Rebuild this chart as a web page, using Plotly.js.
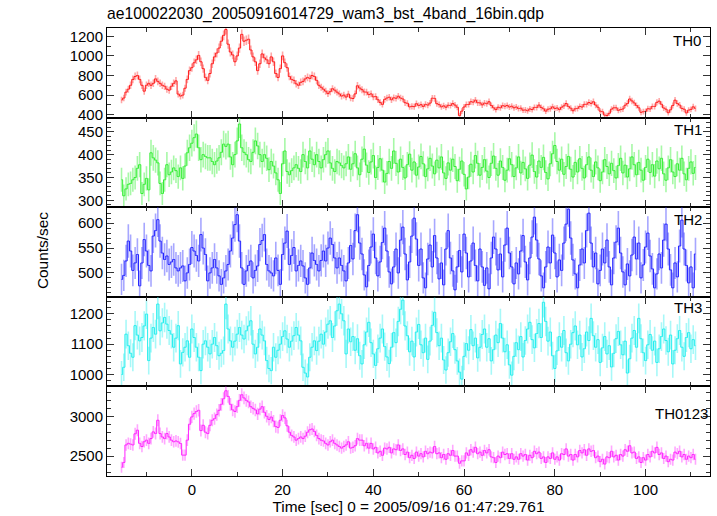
<!DOCTYPE html>
<html>
<head>
<meta charset="utf-8">
<script src="https://cdn.plot.ly/plotly-3.0.1.min.js"></script>
<style>html,body{margin:0;padding:0;background:#fff;}#plot{width:717px;height:516px;}</style>
</head>
<body>
<div id="plot"></div>
<script>
// Time bins: 0.5 s starting at -15.5 s
const tStart = -15.5;
const binWidth = 0.5;

const panelNames = ["TH0", "TH1", "TH2", "TH3", "TH0123"];

const TH0 = [
 550,570,630,660,700,760,790,800,760,700,640,700,720,700,720,765,740,720,700,690,
 660,650,690,720,745,610,590,600,670,760,850,880,930,960,1005,940,870,780,750,820,
 920,990,1030,1080,1150,1210,1270,1120,1040,1010,940,1000,1080,1220,1150,1160,1170,1060,990,940,
 850,920,1020,980,960,920,990,940,820,780,870,1000,930,880,790,760,750,715,700,730,
 740,765,780,770,800,790,750,700,680,660,640,615,635,665,650,630,612,590,600,580,
 610,570,565,612,695,672,655,632,630,605,612,582,585,552,525,505,556,570,578,552,
 572,568,588,570,560,522,516,480,485,482,512,494,502,484,505,498,518,568,566,512,
 502,480,490,476,496,494,514,498,476,392,436,478,502,504,532,528,548,522,520,500,
 518,512,532,494,470,452,476,470,492,486,494,478,486,470,478,462,466,446,448,440,
 458,452,474,474,498,474,460,436,456,460,480,464,468,452,476,490,514,484,466,440,
 460,464,484,478,505,506,524,515,532,498,476,436,430,395,392,414,456,470,470,444,
 452,458,496,514,560,540,520,494,470,424,430,434,460,458,484,484,526,538,506,468,
 456,420,450,494,548,514,498,464,456,418,446,454,480,464
];

const TH1 = [
 345,310,325,335,337,345,350,370,378,315,335,348,323,404,393,388,382,337,315,345,
 378,356,362,371,365,352,371,348,375,404,415,425,437,445,415,389,400,396,393,393,
 385,378,386,393,405,423,418,423,395,378,400,430,467,415,405,400,389,385,405,430,
 419,400,385,400,392,367,385,375,360,345,315,380,408,363,356,365,371,378,370,363,
 400,385,371,408,390,378,400,385,371,389,400,408,382,370,363,385,382,376,371,380,
 395,368,380,402,371,356,390,412,377,361,384,398,350,372,391,366,340,359,385,370,
 408,381,362,390,372,349,378,401,366,384,355,373,396,380,352,369,392,375,358,388,
 371,395,360,348,382,366,390,374,343,368,386,357,325,351,379,362,398,381,355,372,
 389,364,350,381,397,370,355,386,372,344,366,391,378,352,371,395,360,383,369,348,
 377,399,363,351,386,372,394,361,347,380,402,420,385,366,390,357,374,396,368,351,
 383,362,391,370,349,378,395,366,352,384,371,343,362,389,374,358,381,365,349,376,
 392,360,377,351,369,395,378,356,383,366,344,372,390,361,378,353,386,369,392,358,
 344,371,389,362,352,380,366,392,358,345,370,384,359,372
];

const TH2 = [
 487,495,524,564,544,505,520,537,474,520,567,544,515,504,574,585,607,564,540,527,
 534,517,522,527,510,504,510,514,484,500,517,551,544,535,524,577,550,537,484,500,
 510,527,510,494,477,490,504,517,544,570,597,617,564,510,477,504,515,524,490,505,
 514,557,565,577,517,504,500,494,530,505,477,537,560,584,517,535,551,504,515,524,
 514,490,477,510,540,525,517,504,525,544,524,550,570,557,530,510,530,515,504,484,
 520,555,528,585,617,560,538,496,472,515,552,578,530,494,522,561,590,544,502,478,
 512,548,500,566,592,538,486,522,574,610,568,515,548,490,470,528,556,512,575,530,
 488,520,476,548,585,530,504,466,512,545,502,578,540,492,524,560,515,484,548,512,
 475,510,468,530,572,548,506,538,492,556,590,540,512,478,520,498,544,575,522,486,
 530,572,612,566,528,494,470,512,552,520,576,540,492,526,505,560,598,628,570,526,
 498,470,516,548,520,585,620,560,512,540,478,505,548,520,566,512,476,530,562,590,
 540,502,476,518,494,536,572,528,560,490,516,552,580,534,508,470,498,538,510,566,
 598,548,506,470,520,492,554,606,548,515,480,512,470,538
];

const TH3 = [
 1000,1024,1133,1095,1070,1057,1161,1130,1111,1122,1160,1199,1046,1120,1155,1133,1232,1144,1170,1188,
 1166,1145,1133,1090,1120,1161,1035,1073,1090,1111,1057,1150,1122,1090,1057,1013,1100,1111,1090,1068,
 1100,1122,1095,1062,1070,1079,1232,1150,1111,1090,1110,1133,1155,1130,1117,1144,1160,1177,1100,1068,
 1090,1150,1130,1111,1046,1020,1013,1090,1057,1080,1100,1125,1144,1117,1090,1110,1128,1155,1130,1111,
 1024,1005,992,1057,1090,1111,1079,1110,1133,1100,1140,1166,1177,1122,1160,1210,1232,1200,1177,1068,
 1150,1108,1125,1080,1118,1062,1035,1098,1140,1172,1105,1068,1030,1085,1120,1150,1092,1058,1036,1090,
 1138,1105,1175,1215,1245,1160,1128,1075,1110,1058,1140,1165,1098,1072,1120,1050,1110,1162,1205,1138,
 1095,1120,1048,1015,1072,1108,1135,1082,1045,1008,985,1060,1102,1080,1148,1095,1120,1055,1090,1132,
 1150,1090,1118,1045,1082,1130,1105,1168,1120,1075,1098,1032,998,1060,1105,1082,1125,1058,1112,1150,
 1172,1115,1088,1135,1168,1122,1238,1175,1110,1140,1062,1020,1078,1125,1090,1145,1072,1045,1100,1138,
 1160,1098,1130,1058,1085,1140,1112,1185,1128,1090,1115,1040,1088,1125,1068,1095,1025,1070,1118,1142,
 1098,1065,1110,1005,1052,1120,1145,1090,1185,1118,1072,1046,1098,1132,1080,1110,1040,1085,1125,1150,
 1112,1075,1130,1035,1080,1118,1145,1090,1060,1122,1138,1085,1115,1095
];

const TH0123 = [
 2360,2420,2640,2660,2650,2640,2780,2825,2660,2620,2680,2700,2660,2720,2804,2783,2950,2783,2740,2720,
 2783,2740,2700,2680,2690,2679,2658,2512,2512,2700,2900,2992,3033,3060,3075,2820,2887,2800,2783,2887,
 2950,2970,3020,3075,3150,3220,3320,3250,3150,3080,3060,3120,3200,3270,3230,3200,3180,3120,3100,3080,
 3030,3090,3120,3050,3000,2960,2990,2940,2870,2860,2950,3010,2980,2880,2800,2760,2740,2700,2720,2740,
 2720,2750,2800,2830,2840,2810,2760,2720,2700,2690,2660,2640,2680,2700,2660,2640,2620,2600,2620,2640,
 2680,2600,2610,2630,2720,2700,2700,2630,2660,2600,2660,2590,2610,2540,2560,2510,2600,2590,2610,2540,
 2590,2580,2640,2570,2590,2520,2550,2480,2510,2470,2550,2500,2530,2490,2560,2530,2550,2540,2620,2530,
 2540,2480,2520,2460,2530,2510,2570,2500,2500,2410,2440,2440,2540,2510,2580,2550,2610,2530,2550,2510,
 2570,2540,2580,2490,2480,2420,2500,2480,2550,2520,2530,2470,2530,2460,2490,2460,2530,2500,2520,2450,
 2510,2480,2560,2530,2550,2470,2490,2420,2490,2470,2540,2460,2490,2450,2530,2520,2590,2500,2520,2450,
 2520,2490,2570,2540,2580,2510,2590,2560,2570,2480,2500,2430,2460,2400,2490,2480,2560,2490,2510,2450,
 2520,2500,2580,2560,2630,2540,2550,2470,2490,2420,2480,2450,2520,2490,2560,2540,2610,2520,2540,2470,
 2500,2430,2460,2450,2550,2530,2560,2490,2520,2460,2500,2480,2520,2460
];

const seriesList = [TH0, TH1, TH2, TH3, TH0123];
const lineColors = ["#ff1a1a", "#33ee33", "#2222ff", "#22eeee", "#ff22ff"];
const errColors  = ["rgba(255,60,60,0.45)", "rgba(60,240,60,0.45)", "rgba(60,60,255,0.45)", "rgba(60,240,240,0.45)", "rgba(255,60,255,0.45)"];
const yRanges = [[370, 1285], [285, 481], [452, 632], [961, 1256], [2250, 3375]];
const yMajor = [200, 50, 50, 100, 500];
const yMinor = [100, 10, 10, 20, 100];
const labelOffsetPx = [12, 11.5, 12, 11, 27];
const labelRightPx = [703, 704, 704, 704, 710];

const xRange = [-18.7, 114.2];

const W = 717, H = 516;
const mL = 107, mR = 6.5, mT = 28, mB = 40;
const plotW = W - mL - mR, plotH = H - mT - mB;
const fontFam = "Liberation Sans, Arial, Helvetica, sans-serif";

const traces = [];
const layout = {
  width: W, height: H,
  margin: {l: mL, r: mR, t: mT, b: mB, pad: 0},
  paper_bgcolor: "#ffffff", plot_bgcolor: "#ffffff",
  showlegend: false,
  font: {family: fontFam, size: 15, color: "#000"},
  title: {
    text: "ae100022030_20050916014729_wam3_bst_4band_16bin.qdp",
    x: mL / W, xanchor: "left", xref: "container",
    y: 1 - 14 / H, yanchor: "middle", yref: "container",
    font: {family: fontFam, size: 15.7, color: "#000"}
  },
  annotations: []
};

const n = seriesList.length;
seriesList.forEach((vals, k) => {
  const sfx = k === 0 ? "" : String(k + 1);
  const time = vals.map((_, i) => tStart + i * binWidth);
  const err = vals.map(v => Math.sqrt(v / binWidth));
  traces.push({
    type: "scatter", mode: "lines",
    x: time, y: vals,
    xaxis: "x" + sfx, yaxis: "y" + sfx,
    line: {color: lineColors[k], width: 1, shape: "hvh"},
    error_y: {type: "data", array: err, visible: true, color: errColors[k], thickness: 1.6, width: 0},
    hoverinfo: "skip"
  });
  const top = 1 - k / n, bot = 1 - (k + 1) / n;
  layout["xaxis" + sfx] = {
    domain: [0, 1], range: xRange, anchor: "y" + sfx,
    showline: true, linecolor: "#000", linewidth: 1, mirror: "ticks",
    ticks: "inside", ticklen: 7, tickcolor: "#333", tickwidth: 1,
    tick0: 0, dtick: 20,
    minor: {dtick: 10, ticks: "inside", ticklen: 4, tickcolor: "#333", tickwidth: 1},
    showticklabels: k === n - 1,
    tickfont: {family: fontFam, size: 15, color: "#000"},
    showgrid: false, zeroline: false, fixedrange: true
  };
  if (k === n - 1) {
    layout["xaxis" + sfx].title = {
      text: "Time [sec] 0 = 2005/09/16 01:47:29.761",
      font: {family: fontFam, size: 15.4, color: "#000"},
      standoff: 2
    };
  }
  layout["yaxis" + sfx] = {
    domain: [bot, top], range: yRanges[k], anchor: "x" + sfx,
    showline: true, linecolor: "#000", linewidth: 1, mirror: "ticks",
    ticks: "inside", ticklen: 7, tickcolor: "#333", tickwidth: 1,
    tick0: 0, dtick: yMajor[k],
    minor: {dtick: yMinor[k], ticks: "inside", ticklen: 4, tickcolor: "#333", tickwidth: 1},
    tickfont: {family: fontFam, size: 15, color: "#000"},
    showgrid: false, zeroline: false, fixedrange: true
  };
  const topPx = mT + k * plotH / n;
  layout.annotations.push({
    text: panelNames[k], xref: "paper", yref: "paper",
    x: (labelRightPx[k] - mL) / plotW, xanchor: "right",
    y: 1 - (topPx + labelOffsetPx[k] - mT) / plotH, yanchor: "middle",
    showarrow: false, font: {family: fontFam, size: 15, color: "#000"}
  });
});

layout.annotations.push({
  text: "Counts/sec", xref: "paper", yref: "paper",
  x: (42 - mL) / plotW, xanchor: "center",
  y: 1 - (251 - mT) / plotH, yanchor: "middle",
  textangle: -90, showarrow: false,
  font: {family: fontFam, size: 15.4, color: "#000"}
});

Plotly.newPlot("plot", traces, layout, {staticPlot: true, displayModeBar: false});
</script>
</body>
</html>
